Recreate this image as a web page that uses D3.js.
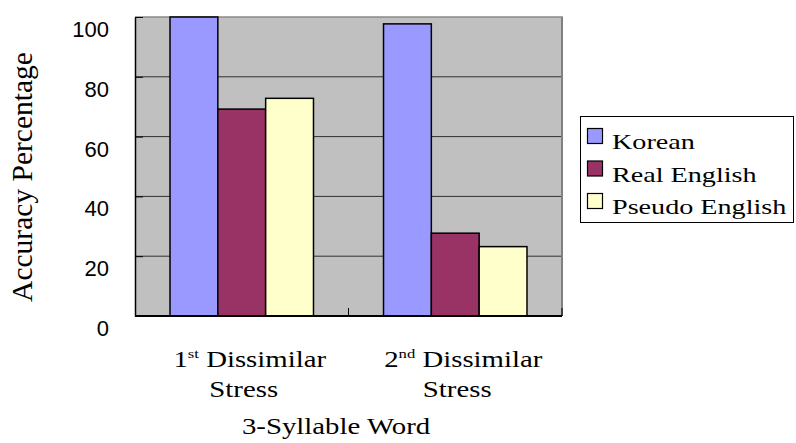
<!DOCTYPE html>
<html>
<head>
<meta charset="utf-8">
<script src="https://cdn.jsdelivr.net/npm/d3@7"></script>
<style>
  html, body { margin: 0; padding: 0; background: #fff; }
  svg { display: block; }
</style>
</head>
<body>
<svg id="chart" width="796" height="443"></svg>
<script>
// Accuracy by stress condition for 3-syllable words
const categories = ["1st Dissimilar Stress", "2nd Dissimilar Stress"];
const categoryOrdinals = ["1", "2"];
const categorySuperscripts = ["st", "nd"];
const seriesNames = ["Korean", "Real English", "Pseudo English"];
const korean = [100, 97.7];
const realEnglish = [69.2, 27.7];
const pseudoEnglish = [72.8, 23.2];
const seriesValues = [korean, realEnglish, pseudoEnglish];
const seriesColors = ["#9999FF", "#993366", "#FFFFCC"];
const yTicks = [0, 20, 40, 60, 80, 100];
const yTitle = "Accuracy Percentage";
const xTitle = "3-Syllable Word";

const svg = d3.select("#chart");
const plot = { left: 135, top: 17, right: 562, bottom: 316 };
const serif = "'Liberation Serif', 'Times New Roman', serif";
const sans = "'Liberation Sans', Arial, sans-serif";
const stretch = 1.28;

const x = d3.scaleBand().domain(categories).range([plot.left, plot.right]);
const groupInset = x.bandwidth() * 0.164;
const xs = d3.scaleBand().domain(seriesNames)
  .range([groupInset, x.bandwidth() - groupInset]);
const y = d3.scaleLinear().domain([0, 100]).range([plot.bottom, plot.top]);

// plot background
svg.append("rect")
  .attr("x", plot.left).attr("y", plot.top)
  .attr("width", plot.right - plot.left).attr("height", plot.bottom - plot.top)
  .attr("fill", "#C0C0C0");

// gridlines
svg.append("g").selectAll("line")
  .data(yTicks.filter(d => d > 0 && d < 100))
  .join("line")
  .attr("x1", plot.left).attr("x2", plot.right)
  .attr("y1", d => y(d)).attr("y2", d => y(d))
  .attr("stroke", "#303030").attr("stroke-width", 1);

// plot frame (top and right)
svg.append("line")
  .attr("x1", plot.left).attr("x2", plot.right + 1)
  .attr("y1", plot.top).attr("y2", plot.top)
  .attr("stroke", "#8a8a8a").attr("stroke-width", 1.5);
svg.append("line")
  .attr("x1", plot.right).attr("x2", plot.right)
  .attr("y1", plot.top).attr("y2", plot.bottom)
  .attr("stroke", "#808080").attr("stroke-width", 2);

// bars
const groups = svg.append("g").selectAll("g")
  .data(categories)
  .join("g")
  .attr("transform", d => `translate(${x(d)},0)`);

groups.selectAll("rect")
  .data((c, ci) => seriesNames.map((s, si) => ({ s, si, v: seriesValues[si][ci] })))
  .join("rect")
  .attr("x", d => xs(d.s))
  .attr("width", xs.bandwidth())
  .attr("y", d => y(d.v))
  .attr("height", d => y(0) - y(d.v))
  .attr("fill", d => seriesColors[d.si])
  .attr("stroke", "#000")
  .attr("stroke-width", 1.5);

// y axis with inward ticks
const yAxis = svg.append("g")
  .attr("transform", `translate(${plot.left},0)`)
  .call(d3.axisLeft(y).tickValues(yTicks).tickSize(-8).tickSizeOuter(0));
yAxis.select(".domain").attr("stroke", "#000").attr("stroke-width", 1.5);
yAxis.selectAll(".tick line").attr("stroke", "#000").attr("stroke-width", 1);
yAxis.selectAll(".tick text")
  .attr("x", -26)
  .attr("dy", 19.5)
  .attr("text-anchor", "end")
  .attr("font-family", sans)
  .attr("font-size", 22)
  .attr("fill", "#000");

// x axis baseline with category separators
svg.append("line")
  .attr("x1", plot.left).attr("x2", plot.right)
  .attr("y1", plot.bottom).attr("y2", plot.bottom)
  .attr("stroke", "#000").attr("stroke-width", 2);
const sepX = categories.map(c => x(c)).concat([x(categories[categories.length - 1]) + x.bandwidth()]);
svg.append("g").selectAll("line")
  .data(sepX.slice(1))
  .join("line")
  .attr("x1", d => d).attr("x2", d => d)
  .attr("y1", plot.bottom).attr("y2", plot.bottom - 8)
  .attr("stroke", "#000").attr("stroke-width", 1);

// stretched serif label helper
function serifLabel(parent, cx, cy, size) {
  return parent.append("g")
    .attr("transform", `translate(${cx},${cy}) scale(${stretch},1)`)
    .append("text")
    .attr("text-anchor", "middle")
    .attr("font-family", serif)
    .attr("font-size", size)
    .attr("fill", "#000");
}

// category labels
categories.forEach((c, i) => {
  const cx = x(c) + x.bandwidth() / 2;
  const t1 = serifLabel(svg, cx + 8, 367, 22.5);
  t1.append("tspan").text(categoryOrdinals[i]);
  t1.append("tspan").attr("font-size", 13).attr("dy", -9).text(categorySuperscripts[i]);
  t1.append("tspan").attr("dy", 9).text(" Dissimilar");
  serifLabel(svg, cx + 2, 397, 22.5).text("Stress");
});

// axis titles
serifLabel(svg, 336, 434, 22.5).text(xTitle);
svg.append("text")
  .attr("transform", "translate(32,177) rotate(-90)")
  .attr("text-anchor", "middle")
  .attr("font-family", serif)
  .attr("font-size", 29.5)
  .attr("fill", "#000")
  .text(yTitle);

// legend
const legend = svg.append("g");
legend.append("rect")
  .attr("x", 580.5).attr("y", 116.5).attr("width", 213).attr("height", 106)
  .attr("fill", "#fff").attr("stroke", "#000").attr("stroke-width", 1);
const rows = legend.selectAll("g.row")
  .data(seriesNames)
  .join("g")
  .attr("class", "row")
  .attr("transform", (d, i) => `translate(0,${i * 32.5})`);
rows.append("rect")
  .attr("x", 587.5).attr("y", 128.5).attr("width", 15).attr("height", 15)
  .attr("fill", (d, i) => seriesColors[i])
  .attr("stroke", "#000").attr("stroke-width", 1.2);
rows.append("g")
  .attr("transform", `translate(612,149) scale(${stretch},1)`)
  .append("text")
  .attr("font-family", serif)
  .attr("font-size", 22)
  .attr("fill", "#000")
  .text(d => d);
</script>
</body>
</html>
